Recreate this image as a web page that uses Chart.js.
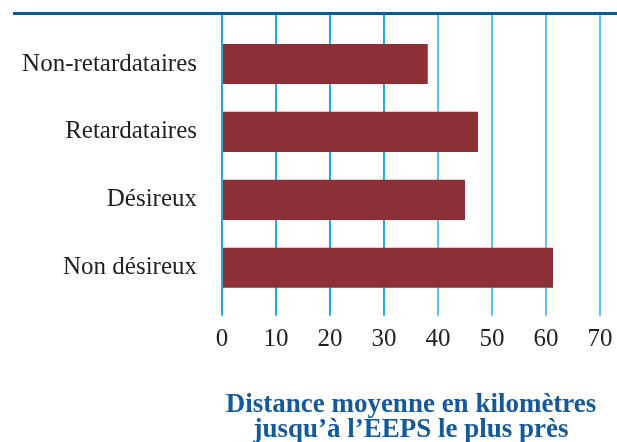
<!DOCTYPE html>
<html><head><meta charset="utf-8">
<script src="https://cdn.jsdelivr.net/npm/chart.js@4"></script>
<style>
html,body{margin:0;padding:0;background:#fff;}
#wrap{position:relative;width:617px;height:442px;}
#topline{position:absolute;left:13px;top:12px;width:604px;height:3px;background:#0c5b99;}
canvas{position:absolute;left:0;top:0;}
</style></head><body>
<div id="wrap"><canvas id="c" width="617" height="442"></canvas><div id="topline"></div></div>
<script>
const categories = ['Non-retardataires', 'Retardataires', 'Désireux', 'Non désireux'];
const distances = [38.1, 47.4, 45.0, 61.3];
const xMin = 0, xMax = 70, xStep = 10;
const axisTitle = ['Distance moyenne en kilomètres', 'jusqu’à l’EEPS le plus près'];

const serif = "'Liberation Serif', serif";
const gridColor = ctx => (ctx.index < 4 ? '#25a8e0' : '#5ec3ec');

new Chart(document.getElementById('c'), {
  type: 'bar',
  data: {
    labels: categories,
    datasets: [{
      data: distances,
      backgroundColor: '#8c2f37',
      borderWidth: 0,
      barPercentage: 0.59,
      categoryPercentage: 1.0
    }]
  },
  options: {
    indexAxis: 'y',
    responsive: false,
    animation: false,
    layout: { padding: { top: 14, right: 17, left: 0, bottom: 0 } },
    plugins: { legend: { display: false }, tooltip: { enabled: false } },
    scales: {
      x: {
        type: 'linear', position: 'bottom', min: xMin, max: xMax,
        afterFit: s => { s.paddingLeft = 0; s.paddingRight = 0; },
        ticks: { stepSize: xStep, padding: 9, color: '#231f20', font: { family: serif, size: 25 } },
        grid: { color: gridColor, lineWidth: 2, drawTicks: true, tickLength: 14 },
        border: { display: false },
        title: {
          display: true, text: axisTitle, color: '#14599a',
          font: { family: serif, size: 27, weight: 'bold', lineHeight: 0.93 },
          padding: { top: 29, bottom: -1 }
        }
      },
      x2: {
        type: 'linear', position: 'top', min: xMin, max: xMax,
        ticks: { display: false, stepSize: xStep },
        grid: { color: gridColor, lineWidth: 2, drawOnChartArea: false, drawTicks: true, tickLength: 16 },
        border: { display: false }
      },
      y: {
        type: 'category',
        afterFit: s => { s.width = 222; s.paddingTop = 0; s.paddingBottom = 0; },
        ticks: { padding: 25, color: '#231f20', font: { family: serif, size: 25 } },
        grid: { display: false, drawTicks: false },
        border: { display: false }
      }
    }
  }
});
</script>
</body></html>
